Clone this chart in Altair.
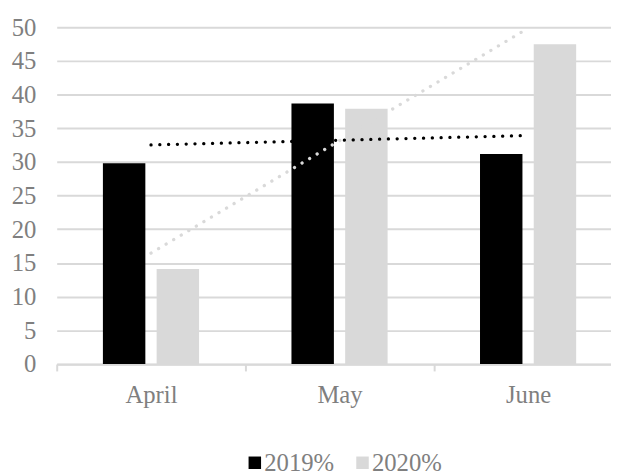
import altair as alt
import pandas as pd

months = ["April", "May", "June"]
series = ["2019%", "2020%"]
v2019 = [29.8, 38.7, 31.2]
v2020 = [14.1, 37.9, 47.5]
colors = ["#000000", "#d9d9d9"]
y_ticks = list(range(0, 51, 5))

rows = []
for i, m in enumerate(months):
    rows.append({"month": m, "idx": i + 1, "series": series[0], "value": v2019[i]})
    rows.append({"month": m, "idx": i + 1, "series": series[1], "value": v2020[i]})
df = pd.DataFrame(rows)

FONT = "Liberation Serif"
TXT = "#7f7f7f"
GRID = "#d9d9d9"

y_axis = alt.Axis(
    title=None, values=y_ticks, ticks=False, domain=False, grid=True,
    gridColor=GRID, gridWidth=2, labelPadding=21, labelOverlap=False,
)

bars = alt.Chart(df).mark_bar().encode(
    x=alt.X(
        "month:N",
        sort=months,
        scale=alt.Scale(paddingInner=0, paddingOuter=0),
        axis=alt.Axis(
            title=None, labelAngle=0, grid=False, tickBand="extent", tickSize=7,
            tickColor=GRID, tickWidth=2, domainColor=GRID, domainWidth=2,
            labelPadding=12,
        ),
    ),
    xOffset=alt.XOffset("series:N", sort=series,
                        scale=alt.Scale(paddingInner=0.21, paddingOuter=0.86)),
    y=alt.Y("value:Q", scale=alt.Scale(domain=[0, 50], nice=False), axis=y_axis),
    color=alt.Color(
        "series:N",
        sort=series,
        scale=alt.Scale(domain=series, range=colors),
        legend=alt.Legend(
            title=None, orient="none", legendX=188, legendY=428,
            direction="horizontal", symbolType="square", symbolSize=160,
            symbolStrokeWidth=0, labelFont=FONT, labelFontSize=25,
            labelColor=TXT, labelOffset={"expr": "-3"}, columnPadding=16, padding=0,
        ),
    ),
)

trend = alt.Chart(df).transform_regression(
    "idx", "value", groupby=["series"]
).mark_line(strokeDash=[0.1, 8.8], strokeCap="round", strokeWidth=3.3, clip=True).encode(
    x=alt.X("idx:Q", scale=alt.Scale(domain=[0.5, 3.5], nice=False, zero=False), axis=None),
    y=alt.Y("value:Q", scale=alt.Scale(domain=[0, 50], nice=False), axis=y_axis),
    stroke=alt.Stroke("series:N", scale=alt.Scale(domain=series, range=colors), legend=None),
    detail="series:N",
)

chart = alt.layer(bars, trend).resolve_scale(x="independent").properties(
    width=572.5,
    height=340.8,
    autosize=alt.AutoSizeParams(type="none"),
    padding={"left": 49.3, "top": 16.7, "right": -11.5, "bottom": 110},
).configure_view(stroke=None).configure_axis(
    labelFont=FONT, labelFontSize=25, labelColor=TXT
)

chart.save("out.html", embed_options={"renderer": "svg", "actions": False})
